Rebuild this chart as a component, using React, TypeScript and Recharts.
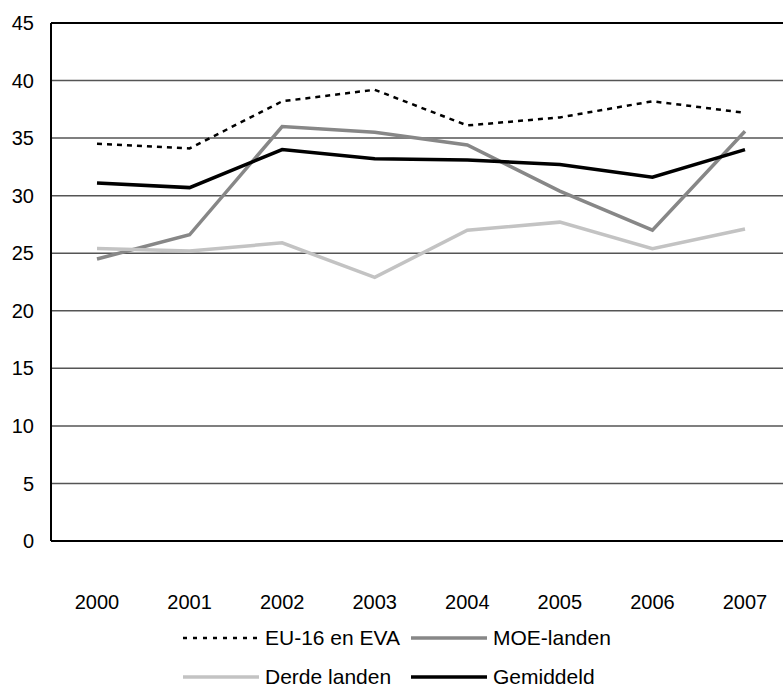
import { LineChart, Line, XAxis, YAxis, CartesianGrid, Legend, ReferenceLine } from "recharts"

const years = ["2000", "2001", "2002", "2003", "2004", "2005", "2006", "2007"]
const euEva = [34.5, 34.1, 38.2, 39.2, 36.1, 36.8, 38.2, 37.2]
const moeLanden = [24.5, 26.6, 36.0, 35.5, 34.4, 30.4, 27.0, 35.6]
const derdeLanden = [25.4, 25.2, 25.9, 22.9, 27.0, 27.7, 25.4, 27.1]
const gemiddeld = [31.1, 30.7, 34.0, 33.2, 33.1, 32.7, 31.6, 34.0]
const yTicks = [0, 5, 10, 15, 20, 25, 30, 35, 40, 45]

const data = years.map((year, i) => ({
  year,
  eu: euEva[i],
  moe: moeLanden[i],
  derde: derdeLanden[i],
  gem: gemiddeld[i],
}))

const font = "'Liberation Sans', Arial, sans-serif"

const series = [
  { key: "eu", name: "EU-16 en EVA", color: "#000", width: 2.5, dash: "5 5" },
  { key: "moe", name: "MOE-landen", color: "#878787", width: 3.5, dash: undefined },
  { key: "derde", name: "Derde landen", color: "#c3c3c3", width: 3.5, dash: undefined },
  { key: "gem", name: "Gemiddeld", color: "#000", width: 3.5, dash: undefined },
]

function LegendItem({ s }: { s: typeof series[number] }) {
  return (
    <div style={{ display: "flex", alignItems: "center", height: 18 }}>
      <svg width={76} height={10} style={{ marginRight: 6 }}>
        <line x1={0} y1={5} x2={76} y2={5} stroke={s.color} strokeWidth={s.width}
          strokeDasharray={s.dash ? "4 6" : undefined} />
      </svg>
      <span>{s.name}</span>
    </div>
  )
}

function ChartLegend() {
  return (
    <div style={{
      height: 75,
      paddingLeft: 183,
      paddingTop: 18,
      boxSizing: "border-box",
      display: "grid",
      gridTemplateColumns: "228px auto",
      rowGap: 20,
      fontFamily: font,
      fontSize: 21,
      color: "#000",
      lineHeight: "18px",
    }}>
      <LegendItem s={series[0]} />
      <LegendItem s={series[1]} />
      <LegendItem s={series[2]} />
      <LegendItem s={series[3]} />
    </div>
  )
}

export default function App() {
  return (
    <div style={{ position: "absolute", left: 0, top: 0, width: 783, height: 686, overflow: "hidden" }}>
      <LineChart width={791} height={686} data={data} margin={{ top: 23, right: 0, bottom: 0, left: 0 }}>
        <CartesianGrid vertical={false} stroke="#555" strokeWidth={1.5} />
        <XAxis
          dataKey="year"
          padding={{ left: 46, right: 46 }}
          height={70}
          tickSize={0}
          tickMargin={54}
          axisLine={{ stroke: "#000", strokeWidth: 2 }}
          tick={{ fill: "#000", fontSize: 20, fontFamily: font }}
        />
        <YAxis
          width={51}
          domain={[0, 45]}
          ticks={yTicks}
          interval={0}
          tickSize={0}
          tickMargin={17}
          axisLine={{ stroke: "#000", strokeWidth: 2 }}
          tick={{ fill: "#000", fontSize: 20, fontFamily: font }}
        />
        <ReferenceLine y={45} stroke="#000" strokeWidth={2} />
        {series.map((s) => (
          <Line
            key={s.key}
            dataKey={s.key}
            name={s.name}
            stroke={s.color}
            strokeWidth={s.width}
            strokeDasharray={s.dash}
            dot={false}
            activeDot={false}
            isAnimationActive={false}
          />
        ))}
        <Legend verticalAlign="bottom" content={() => <ChartLegend />} />
      </LineChart>
    </div>
  )
}
